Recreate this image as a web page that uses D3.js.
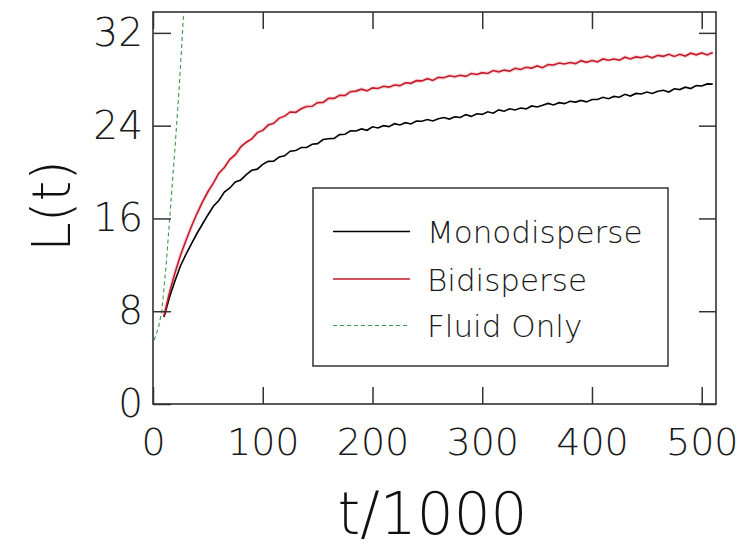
<!DOCTYPE html>
<html><head><meta charset="utf-8">
<script src="https://cdn.jsdelivr.net/npm/d3@7"></script>
<style>body{margin:0;background:#fff;overflow:hidden}</style>
</head><body><svg id="c" width="746" height="547"></svg>
<script>
// ---- data ----
const tValues = [10,15,20,25,30,35,40,45,50,55,60,65,70,75,80,85,90,95,100,105,110,115,120,125,130,135,140,145,150,155,160,165,170,175,180,185,190,195,200,205,210,215,220,225,230,235,240,245,250,255,260,265,270,275,280,285,290,295,300,305,310,315,320,325,330,335,340,345,350,355,360,365,370,375,380,385,390,395,400,405,410,415,420,425,430,435,440,445,450,455,460,465,470,475,480,485,490,495,500,505,510];
const monodisperse = [7.5,9.2,10.6,11.9,12.9,13.8,14.7,15.5,16.3,17.05,17.55,18.28,18.63,19.15,19.32,19.77,20.15,20.25,20.66,20.92,20.94,21.3,21.4,21.8,21.85,22.12,22.12,22.4,22.45,22.8,22.87,22.9,23.23,23.26,23.55,23.54,23.72,23.6,23.9,23.8,24.0,23.92,24.17,24.06,24.26,24.15,24.4,24.38,24.53,24.4,24.6,24.7,24.57,24.76,24.71,24.95,24.8,25.03,24.97,25.2,25.07,25.36,25.24,25.45,25.35,25.52,25.45,25.7,25.61,25.75,25.92,25.79,25.98,25.9,26.1,26.03,26.18,26.05,26.26,26.26,26.45,26.32,26.52,26.45,26.7,26.55,26.78,26.73,26.9,26.77,26.96,27.05,26.9,27.18,27.11,27.32,27.2,27.45,27.42,27.6,27.58];
const bidisperse = [7.6,9.6,11.3,12.8,14.1,15.3,16.4,17.4,18.3,19.05,19.9,20.39,21.09,21.5,22.18,22.57,22.85,23.4,23.59,24.05,24.2,24.65,24.82,25.18,25.15,25.46,25.65,25.67,25.99,26.0,26.35,26.35,26.62,26.6,26.93,26.98,27.15,27.0,27.26,27.21,27.4,27.32,27.5,27.45,27.7,27.65,27.88,27.86,28.05,27.9,28.16,28.13,28.3,28.22,28.35,28.25,28.5,28.41,28.57,28.5,28.75,28.64,28.79,28.7,28.95,28.85,29.03,28.96,29.15,29.0,29.26,29.23,29.4,29.32,29.45,29.35,29.6,29.46,29.62,29.5,29.75,29.64,29.75,29.65,29.9,29.75,29.93,29.86,30.0,29.85,30.06,29.98,30.15,29.97,30.15,30.0,30.25,30.11,30.27,30.1,30.3];
const fluidT = [1,5,8,12,16,20,24,28,30];
const fluidL = [5.5,6.6,8.0,12.0,17.0,22.0,27.5,33.8,36.5];
const xTicks = [0,100,200,300,400,500];
const yTicks = [0,8,16,24,32];
const seriesNames = ["Monodisperse","Bidisperse","Fluid Only"];
const seriesColors = ["#000000","#c41a2c","#3a9a46"];
const xLabel = "t/1000";
const yLabel = "L(t)";

// ---- layout ----
const FONT = "'DejaVu Sans', sans-serif";
const W = 746, H = 547;
const L = 153, R = 716, T = 12, B = 404;
const svg = d3.select("#c");
const x = d3.scaleLinear().domain([0, 513]).range([L, R]);
const y = d3.scaleLinear().domain([0, 33.8]).range([B, T]);

svg.append("rect").attr("width", W).attr("height", H).attr("fill", "#fff");

svg.append("defs").append("clipPath").attr("id", "clip")
  .append("rect").attr("x", L).attr("y", T).attr("width", R - L).attr("height", B - T);

// curves
const line = d3.line().x(d => x(d[0])).y(d => y(d[1]));
const g = svg.append("g").attr("clip-path", "url(#clip)");
const fluidData = fluidT.map((t, i) => [t, fluidL[i]]);
g.append("path").datum(fluidData).attr("d", line).attr("fill", "none")
  .attr("stroke", seriesColors[2]).attr("stroke-width", 1.1).attr("stroke-dasharray", "4,3");
const biData = tValues.map((t, i) => [t, bidisperse[i]]);
g.append("path").datum(biData).attr("d", line).attr("fill", "none")
  .attr("stroke", "#f4c4c8").attr("stroke-width", 4).attr("opacity", 0.6);
const monoData = tValues.map((t, i) => [t, monodisperse[i]]);
g.append("path").datum(monoData).attr("d", line).attr("fill", "none")
  .attr("stroke", seriesColors[0]).attr("stroke-width", 1.6);
g.append("path").datum(biData).attr("d", line).attr("fill", "none")
  .attr("stroke", seriesColors[1]).attr("stroke-width", 1.6);

// axes
const axisCol = "#333";
function styleAxis(sel) {
  sel.select(".domain").remove();
  sel.selectAll(".tick line").attr("stroke", axisCol).attr("stroke-width", 1.5);
  sel.selectAll(".tick text").attr("fill", "#1a1a1a").attr("font-family", FONT)
    .attr("font-weight", 200);
}
const gx = svg.append("g").attr("transform", `translate(0,${B})`)
  .call(d3.axisBottom(x).tickValues(xTicks).tickSize(-17).tickPadding(24).tickFormat(d3.format("d")));
styleAxis(gx);
gx.selectAll(".tick text").attr("font-size", 38);
const gy = svg.append("g").attr("transform", `translate(${L},0)`)
  .call(d3.axisLeft(y).tickValues(yTicks).tickSize(-18).tickPadding(10).tickFormat(d3.format("d")));
styleAxis(gy);
gy.selectAll(".tick text").attr("font-size", 39);
const gt = svg.append("g").attr("transform", `translate(0,${T})`)
  .call(d3.axisTop(x).tickValues(xTicks).tickSize(-17).tickFormat(""));
styleAxis(gt);
const gr = svg.append("g").attr("transform", `translate(${R},0)`)
  .call(d3.axisRight(y).tickValues(yTicks).tickSize(-17).tickFormat(""));
styleAxis(gr);

// frame
svg.append("rect").attr("x", L).attr("y", T).attr("width", R - L).attr("height", B - T)
  .attr("fill", "none").attr("stroke", axisCol).attr("stroke-width", 1.6);

// axis titles
svg.append("text").attr("x", (L + R) / 2 - 2).attr("y", 534).attr("text-anchor", "middle")
  .attr("font-family", FONT).attr("font-weight", 200).attr("font-size", 58).attr("fill", "#111")
  .text(xLabel);
svg.append("text").attr("transform", "translate(70,206) rotate(-90)").attr("text-anchor", "middle")
  .attr("font-family", FONT).attr("font-weight", 200).attr("font-size", 53).attr("fill", "#111")
  .text(yLabel);

// legend
const lg = svg.append("g");
lg.append("rect").attr("x", 313).attr("y", 188).attr("width", 355).attr("height", 178)
  .attr("fill", "#fff").attr("stroke", axisCol).attr("stroke-width", 1.5);
const rows = [231.5, 279, 325.5];
seriesNames.forEach((name, i) => {
  lg.append("line").attr("x1", 333).attr("x2", 410).attr("y1", rows[i]).attr("y2", rows[i])
    .attr("stroke", seriesColors[i]).attr("stroke-width", i === 2 ? 1.1 : 1.4)
    .attr("stroke-dasharray", i === 2 ? "4,3" : null);
  lg.append("text").attr("x", 427).attr("y", rows[i] + 11.5)
    .attr("font-family", FONT).attr("font-weight", 200).attr("font-size", 31).attr("fill", "#1a1a1a")
    .text(name);
});
</script></body></html>
